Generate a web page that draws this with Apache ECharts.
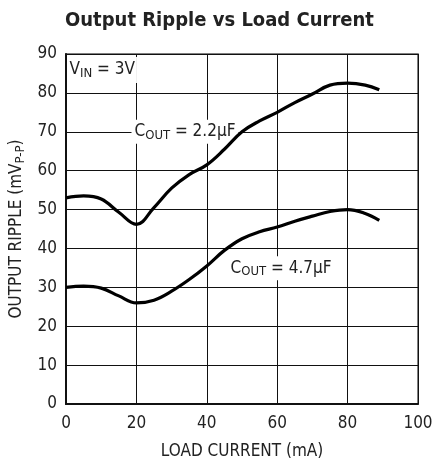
<!DOCTYPE html>
<html>
<head>
<meta charset="utf-8">
<script src="https://cdn.jsdelivr.net/npm/echarts@6/dist/echarts.min.js"></script>
<style>
  html, body { margin: 0; padding: 0; background: #fff; }
  #chart { width: 433px; height: 461px; }
</style>
</head>
<body>
<div id="chart"></div>
<script>
// load current (mA)
var loadCurrent = [0, 5, 10, 15, 20, 25, 30, 35, 40, 45, 50, 55, 60, 65, 70, 75, 80, 85, 89];
// output ripple (mVp-p)
var ripple22 = [53, 53.5, 52.7, 49.3, 46.2, 50.5, 55.5, 59, 61.5, 65.5, 70, 72.8, 75, 77.5, 79.7, 82, 82.5, 82, 80.8];
var ripple47 = [30, 30.3, 29.8, 27.8, 26, 26.7, 29, 32, 35.5, 39.5, 42.5, 44.3, 45.5, 47, 48.3, 49.5, 50, 49, 47.2];
var xTicks = [0, 20, 40, 60, 80, 100];
var yTicks = [0, 10, 20, 30, 40, 50, 60, 70, 80, 90];

var FONT = "'Liberation Sans Narrow', 'DejaVu Sans Condensed', 'Roboto', sans-serif";

function pairs(xs, ys) {
    var out = [];
    for (var i = 0; i < xs.length; i++) out.push([xs[i], ys[i]]);
    return out;
}

var chart = echarts.init(document.getElementById('chart'));

var subRich = {
    n: { fontFamily: FONT, fontSize: 17, color: '#222' },
    s: { fontFamily: FONT, fontSize: 13, color: '#222', padding: [7, 0, 0, 0] }
};

function noteLabel(main, sub, rest, pad) {
    return {
        show: true,
        formatter: '{n|' + main + '}{s|' + sub + '}{n|' + rest + '}',
        rich: subRich,
        backgroundColor: '#fff',
        padding: pad || [2, 3, 2, 3],
        position: 'inside'
    };
}

chart.setOption({
    animation: false,
    title: {
        text: 'Output Ripple vs Load Current',
        left: 60,
        top: 6,
        textStyle: { fontFamily: FONT, fontSize: 20, fontWeight: 'bold', color: '#222' }
    },
    grid: {
        left: 66, right: 15, top: 54, bottom: 57,
        outerBoundsMode: 'none',
        containLabel: false,
        show: true, borderColor: '#555', borderWidth: 1.5
    },
    xAxis: {
        type: 'value',
        min: xTicks[0],
        max: xTicks[xTicks.length - 1],
        interval: 20,
        name: 'LOAD CURRENT (mA)',
        nameLocation: 'middle',
        nameGap: 39,
        nameTextStyle: { fontFamily: FONT, fontSize: 17, color: '#222' },
        axisLine: { lineStyle: { color: '#111', width: 2 } },
        axisTick: { show: false },
        axisLabel: { fontFamily: FONT, fontSize: 17, color: '#222', margin: 11 },
        splitLine: { lineStyle: { color: '#111', width: 1 } }
    },
    yAxis: {
        type: 'value',
        min: yTicks[0],
        max: yTicks[yTicks.length - 1],
        interval: 10,
        name: '{n|OUTPUT RIPPLE (mV}{s|P-P}{n|)}',
        nameLocation: 'middle',
        nameGap: 37,
        nameTextStyle: {
            rich: {
                n: { fontFamily: FONT, fontSize: 17, color: '#222' },
                s: { fontFamily: FONT, fontSize: 13, color: '#222', padding: [7, 0, 0, 0] }
            }
        },
        axisLine: { show: true, lineStyle: { color: '#111', width: 2 } },
        axisTick: { show: false },
        axisLabel: { fontFamily: FONT, fontSize: 17, color: '#222', margin: 9 },
        splitLine: { lineStyle: { color: '#111', width: 1 } }
    },
    series: [
        {
            type: 'line',
            data: pairs(loadCurrent, ripple22),
            smooth: 0.4,
            showSymbol: false,
            lineStyle: { color: '#000', width: 3.2 },
            z: 5,
            markPoint: {
                symbol: 'rect', symbolSize: 0,
                data: [
                    { coord: [10.3, 85.9], label: noteLabel('V', 'IN', ' = 3V', [3, 2, 3, 2]) },
                    { coord: [33.8, 70], label: noteLabel('C', 'OUT', ' = 2.2\u00b5F') }
                ]
            }
        },
        {
            type: 'line',
            data: pairs(loadCurrent, ripple47),
            smooth: 0.4,
            showSymbol: false,
            lineStyle: { color: '#000', width: 3.2 },
            z: 5,
            markPoint: {
                symbol: 'rect', symbolSize: 0,
                data: [
                    { coord: [61.1, 34.9], label: noteLabel('C', 'OUT', ' = 4.7\u00b5F') }
                ]
            }
        }
    ]
});
</script>
</body>
</html>
